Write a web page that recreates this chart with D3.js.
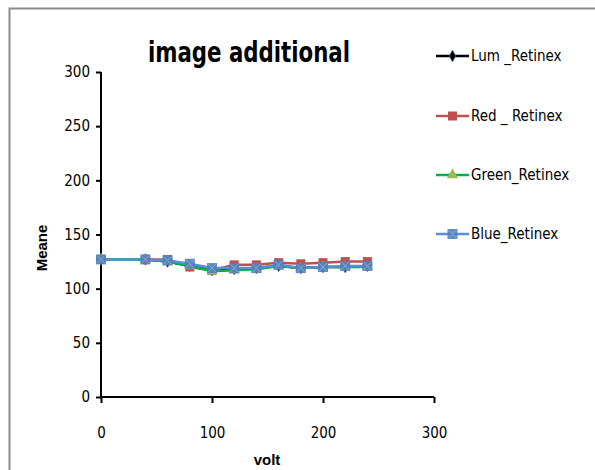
<!DOCTYPE html>
<html>
<head>
<meta charset="utf-8">
<script src="https://cdn.jsdelivr.net/npm/d3@7"></script>
<style>
body { margin: 0; background: #fff; }
text { font-family: "DejaVu Sans Condensed", "DejaVu Sans", sans-serif; }
</style>
</head>
<body>
<div id="chart"></div>
<script>
"use strict"

const volts = [0, 40, 60, 80, 100, 120, 140, 160, 180, 200, 220, 240];
const lumRetinex   = [127, 127, 125, 121, 117, 118, 119, 121, 119, 120, 120, 121];
const redRetinex   = [127, 127, 127, 120, 117, 122, 122, 124, 123, 124, 125, 125];
const greenRetinex = [127, 127, 125, 121, 116, 117, 118, 121, 119, 120, 120, 120];
const blueRetinex  = [127, 127, 126, 123, 119, 119, 119, 122, 119, 120, 121, 121];
const xTicks = [0, 100, 200, 300];
const yTicks = [0, 50, 100, 150, 200, 250, 300];

const series = [
    { name: "Lum _Retinex", values: lumRetinex, line: "#000000", fill: "#000000", shape: "diamond" },
    { name: "Red _ Retinex", values: redRetinex, line: "#C0504D", fill: "#C0504D", shape: "square" },
    { name: "Green_Retinex", values: greenRetinex, line: "#00B050", fill: "#9BBB59", shape: "triangle" },
    { name: "Blue_Retinex", values: blueRetinex, line: "#5B8ED6", fill: "#4F81BD", shape: "x" }
];

const W = 595, H = 470;
const svg = d3.select("#chart").append("svg")
    .attr("width", W).attr("height", H);

// frame
svg.append("path")
    .attr("d", "M9.5,470 L9.5,8.5 L595,8.5")
    .attr("fill", "none").attr("stroke", "#8c8c8c").attr("stroke-width", 2);

const x = d3.scaleLinear().domain([0, 300]).range([101, 434]);
const y = d3.scaleLinear().domain([0, 300]).range([397, 72]);

// axes
const yAxis = svg.append("g")
    .attr("transform", "translate(101,0)")
    .call(d3.axisLeft(y).tickValues(yTicks).tickSize(5).tickPadding(6));
const xAxis = svg.append("g")
    .attr("transform", "translate(0,397)")
    .call(d3.axisBottom(x).tickValues(xTicks).tickSize(6).tickPadding(24));

[xAxis, yAxis].forEach((g) => {
    g.select(".domain").attr("stroke", "#000").attr("stroke-width", 2);
    g.selectAll(".tick line").attr("stroke", "#000").attr("stroke-width", 2);
    g.selectAll(".tick text")
        .attr("fill", "#000")
        .style("font-size", "15px")
        .style("font-family", "\"DejaVu Sans Condensed\", \"DejaVu Sans\", sans-serif");
});
xAxis.select(".domain").attr("d", "M101,0H434");
yAxis.select(".domain").attr("d", "M0,72V397");

// titles
svg.append("text")
    .attr("x", 249).attr("y", 62)
    .attr("text-anchor", "middle")
    .attr("textLength", 202)
    .attr("lengthAdjust", "spacingAndGlyphs")
    .style("font-size", "28px").style("font-weight", "bold")
    .text("image additional");

svg.append("text")
    .attr("x", 267).attr("y", 465)
    .attr("text-anchor", "middle")
    .style("font-family", "\"Liberation Sans\", Arial, sans-serif")
    .style("font-size", "15px").style("font-weight", "bold")
    .text("volt");

svg.append("text")
    .attr("transform", "translate(47,248) rotate(-90)")
    .attr("text-anchor", "middle")
    .style("font-family", "\"Liberation Sans\", Arial, sans-serif")
    .style("font-size", "15px").style("font-weight", "bold")
    .text("Meane");

function drawMarker(g, s, cx, cy) {
    if (s.shape == "diamond") {
        g.append("path").attr("d", d3.symbol(d3.symbolDiamond, 40)())
            .attr("transform", `translate(${cx},${cy})`)
            .attr("fill", s.fill).attr("stroke", "#4F81BD").attr("stroke-width", 0.6);
    } else if (s.shape == "square") {
        g.append("rect").attr("x", cx - 4.5).attr("y", cy - 4.5)
            .attr("width", 9).attr("height", 9).attr("fill", s.fill);
    } else if (s.shape == "triangle") {
        g.append("path").attr("d", d3.symbol(d3.symbolTriangle, 55)())
            .attr("transform", `translate(${cx},${cy})`)
            .attr("fill", s.fill);
    } else {
        g.append("rect").attr("x", cx - 5).attr("y", cy - 5)
            .attr("width", 10).attr("height", 10).attr("fill", s.fill).attr("opacity", 0.9);
        g.append("path")
            .attr("d", `M${cx - 4},${cy - 4}L${cx + 4},${cy + 4}M${cx - 4},${cy + 4}L${cx + 4},${cy - 4}`)
            .attr("stroke", "#8aa8d8").attr("stroke-width", 1);
    }
}

const line = d3.line()
    .x((d, i) => x(volts[i]))
    .y((d) => y(d));

series.forEach((s) => {
    const g = svg.append("g");
    g.append("path")
        .attr("d", line(s.values))
        .attr("fill", "none")
        .attr("stroke", s.line)
        .attr("stroke-width", 2.5);
    s.values.forEach((v, i) => drawMarker(g, s, x(volts[i]), y(v)));
});

// legend
const legendY = [56, 116, 175, 234];
series.forEach((s, i) => {
    const g = svg.append("g");
    const ly = legendY[i];
    g.append("line")
        .attr("x1", 436).attr("x2", 469).attr("y1", ly).attr("y2", ly)
        .attr("stroke", s.line).attr("stroke-width", 2.5);
    drawMarker(g, s, 452.5, ly);
    g.append("text")
        .attr("x", 471).attr("y", ly + 5)
        .style("font-size", "15px")
        .text(s.name);
});
</script>
</body>
</html>
